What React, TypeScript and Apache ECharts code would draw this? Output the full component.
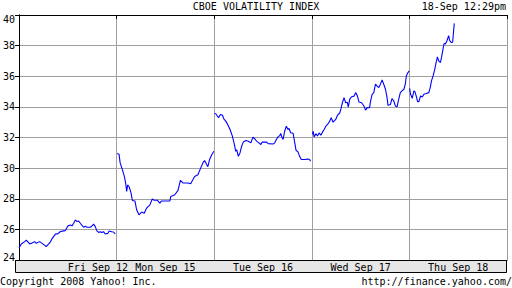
import React, { useEffect, useRef } from "react";
import * as echarts from "echarts";

// Day labels (category band under each trading session)
const dayLabels = ["Fri Sep 12", "Mon Sep 15", "Tue Sep 16", "Wed Sep 17", "Thu Sep 18"];

// Y-axis range / ticks
const yMin = 24;
const yMax = 40;
const yStep = 2;

// Intraday VIX readings: [fraction of session, value]
const fri12: [number, number][] = [
  [0.0, 24.79], [0.023, 25.05], [0.058, 25.2], [0.074, 25.3], [0.109, 25.05], [0.143, 25.15],
  [0.16, 25.2], [0.176, 25.09], [0.211, 25.2], [0.244, 25.05], [0.278, 24.87], [0.318, 25.15],
  [0.339, 25.4], [0.373, 25.69], [0.4, 25.72], [0.424, 25.86], [0.458, 25.9], [0.475, 25.92],
  [0.502, 26.23], [0.526, 26.28], [0.543, 26.23], [0.56, 26.4], [0.577, 26.62], [0.594, 26.51],
  [0.611, 26.55], [0.628, 26.4], [0.645, 26.26], [0.662, 26.14], [0.679, 26.2], [0.696, 26.14],
  [0.73, 26.14], [0.747, 26.22], [0.764, 26.34], [0.781, 26.18], [0.798, 25.9], [0.815, 25.8],
  [0.832, 25.85], [0.849, 25.79], [0.866, 25.85], [0.883, 25.7], [0.91, 25.74], [0.924, 25.9],
  [0.95, 25.84], [0.968, 25.83], [0.985, 25.7],
];
const mon15: [number, number][] = [
  [0.005, 30.95], [0.025, 30.9], [0.036, 30.34], [0.059, 29.9], [0.079, 29.46], [0.093, 29.0],
  [0.103, 28.48], [0.113, 28.9], [0.127, 28.8], [0.148, 28.37], [0.161, 27.89], [0.188, 27.85],
  [0.205, 27.28], [0.229, 26.95], [0.256, 27.13], [0.283, 27.06], [0.307, 27.39], [0.341, 27.6],
  [0.365, 27.98], [0.385, 27.9], [0.419, 27.9], [0.443, 27.72], [0.459, 27.85], [0.545, 27.85],
  [0.555, 28.15], [0.596, 28.26], [0.629, 28.55], [0.653, 29.2], [0.68, 29.03], [0.731, 29.03],
  [0.759, 28.98], [0.782, 29.25], [0.799, 29.46], [0.833, 29.57], [0.861, 30.0], [0.887, 30.38],
  [0.901, 30.49], [0.922, 30.23], [0.935, 30.1], [0.952, 30.56], [0.976, 30.89], [0.996, 31.1],
];
const tue16: [number, number][] = [
  [0.003, 33.57], [0.016, 33.55], [0.044, 33.29], [0.064, 33.5], [0.085, 33.45], [0.098, 33.22],
  [0.118, 33.07], [0.138, 32.85], [0.162, 32.52], [0.186, 32.09], [0.207, 31.54], [0.22, 31.1],
  [0.23, 31.2], [0.247, 30.77], [0.264, 30.99], [0.281, 31.43], [0.298, 31.7], [0.325, 31.8],
  [0.349, 31.76], [0.376, 31.65], [0.396, 32.02], [0.417, 31.9], [0.434, 31.76], [0.457, 31.65],
  [0.478, 31.54], [0.492, 31.7], [0.536, 31.7], [0.553, 31.6], [0.604, 31.58], [0.62, 31.65],
  [0.637, 31.87], [0.654, 32.04], [0.671, 32.12], [0.681, 32.26], [0.696, 31.98], [0.706, 31.87],
  [0.722, 32.41], [0.739, 32.74], [0.756, 32.52], [0.767, 32.6], [0.783, 32.31], [0.808, 32.28],
  [0.824, 31.7], [0.838, 31.17], [0.858, 31.06], [0.875, 30.77], [0.892, 30.56], [0.926, 30.56],
  [0.96, 30.59], [0.977, 30.56], [0.987, 30.45],
];
const wed17: [number, number][] = [
  [0.007, 32.2], [0.014, 32.41], [0.024, 32.04], [0.042, 32.25], [0.058, 32.1], [0.075, 32.3],
  [0.093, 32.15], [0.109, 32.35], [0.126, 32.52], [0.144, 32.74], [0.16, 32.85], [0.184, 33.07],
  [0.198, 33.29], [0.218, 33.0], [0.245, 33.18], [0.262, 33.44], [0.286, 33.6], [0.299, 33.88],
  [0.313, 34.27], [0.33, 34.6], [0.347, 34.27], [0.364, 34.3], [0.374, 33.99], [0.388, 34.49],
  [0.408, 34.66], [0.432, 34.7], [0.449, 34.93], [0.465, 34.75], [0.483, 34.32], [0.51, 34.27],
  [0.534, 34.06], [0.551, 33.79], [0.567, 33.95], [0.592, 33.95], [0.602, 34.38], [0.618, 34.82],
  [0.635, 34.93], [0.652, 35.48], [0.666, 35.37], [0.686, 35.26], [0.703, 35.48], [0.72, 35.76],
  [0.737, 35.48], [0.755, 35.15], [0.771, 34.6], [0.781, 34.1], [0.806, 34.16], [0.821, 34.54],
  [0.839, 34.4], [0.856, 34.06], [0.873, 34.0], [0.89, 34.49], [0.907, 34.93], [0.924, 35.04],
  [0.944, 35.15], [0.958, 35.48], [0.968, 36.02], [0.985, 36.24], [0.999, 36.35],
];
const thu18: [number, number][] = [
  [0.002, 35.21], [0.012, 34.82], [0.029, 34.56], [0.046, 35.04], [0.056, 35.0], [0.07, 34.7],
  [0.084, 34.34], [0.097, 34.34], [0.114, 34.71], [0.132, 34.65], [0.148, 34.82], [0.172, 34.87],
  [0.199, 34.93], [0.213, 35.26], [0.226, 35.7], [0.243, 36.02], [0.26, 36.46], [0.274, 36.9],
  [0.287, 37.27], [0.3, 37.0], [0.318, 36.9], [0.328, 37.2], [0.341, 37.66], [0.355, 38.14],
  [0.369, 38.1], [0.385, 38.32], [0.402, 38.65], [0.413, 38.32], [0.43, 38.2], [0.443, 38.22],
  [0.453, 38.97], [0.46, 39.45],
];

const sessions = [fri12, mon15, tue16, wed17, thu18];

const FONT = "DejaVu Sans Mono";
const LINE_BLUE = "#0000ff";
const GRID_GRAY = "#a0a0a0";

export default function App() {
  const ref = useRef<HTMLDivElement>(null);

  useEffect(() => {
    if (!ref.current) return;
    const chart = echarts.init(ref.current, undefined, { renderer: "svg" });

    const series = sessions.map((pts, day) => ({
      type: "line",
      xAxisIndex: 0,
      yAxisIndex: 0,
      showSymbol: false,
      symbol: "none",
      z: 5,
      lineStyle: { color: LINE_BLUE, width: 1.1 },
      data: pts.map(([f, v]) => [day + f, v]),
    }));

    const titleStyle = { fontFamily: FONT, fontSize: 10, fontWeight: "normal", color: "#000" };
    const labelFont = { fontFamily: FONT, fontSize: 10, color: "#000" };

    chart.setOption({
      animation: false,
      textStyle: { fontFamily: FONT },
      title: [
        { text: "CBOE VOLATILITY INDEX", left: "center", top: 1, padding: 0, textStyle: titleStyle },
        { text: "18-Sep 12:29pm", right: 6, top: 1, padding: 0, textStyle: titleStyle },
        { text: "Copyright 2008 Yahoo! Inc.", left: 0, top: 276, padding: 0, textStyle: titleStyle },
        { text: "http://finance.yahoo.com/", right: 0, top: 276, padding: 0, textStyle: titleStyle },
      ],
      grid: { left: 16, right: 5, top: 15, bottom: 28, containLabel: false },
      graphic: [
        {
          type: "rect",
          z: 1,
          shape: { x: 15.5, y: 260.5, width: 491, height: 12 },
          style: { fill: "#e6e6e6", stroke: "#000", lineWidth: 1 },
        },
      ],
      xAxis: [
        {
          type: "value",
          position: "bottom",
          min: 0,
          max: 5,
          interval: 1,
          z: 3,
          axisLine: { show: true, lineStyle: { color: "#000", width: 1 } },
          axisTick: { show: false },
          axisLabel: { show: false },
          splitLine: { show: true, lineStyle: { color: GRID_GRAY, width: 1 } },
        },
        {
          type: "value",
          position: "top",
          min: 0,
          max: 5,
          interval: 1,
          z: 3,
          axisLine: { show: true, lineStyle: { color: "#000", width: 1 } },
          axisTick: { show: true, inside: true, length: 4, lineStyle: { color: "#000" } },
          axisLabel: { show: false },
          splitLine: { show: false },
        },
        {
          type: "category",
          position: "bottom",
          boundaryGap: true,
          z: 4,
          data: dayLabels.map((d, i) =>
            i === 0 ? { value: d, textStyle: { align: "left" } } : d
          ),
          axisLine: { show: false },
          axisTick: { show: false },
          splitLine: { show: false },
          axisLabel: {
            show: true,
            interval: 0,
            margin: 2,
            ...labelFont,
          },
        },
      ],
      yAxis: [
        {
          type: "value",
          position: "left",
          min: yMin,
          max: yMax,
          interval: yStep,
          z: 3,
          axisLine: { show: true, lineStyle: { color: "#000", width: 1 } },
          axisTick: { show: true, inside: false, length: 3, lineStyle: { color: "#000" } },
          axisLabel: {
            show: true,
            margin: 4,
            ...labelFont,
            formatter: (v: number) =>
              v === yMax ? `{top|${v}}` : v === yMin ? `{bot|${v}}` : `${v}`,
            rich: {
              top: { ...labelFont, padding: [9, 0, 0, 0] },
              bot: { ...labelFont, padding: [0, 0, 5, 0] },
            },
          },
          splitLine: { show: true, lineStyle: { color: GRID_GRAY, width: 1 } },
        },
        {
          type: "value",
          position: "right",
          min: yMin,
          max: yMax,
          interval: yStep,
          z: 3,
          axisLine: { show: true, lineStyle: { color: "#000", width: 1 } },
          axisTick: { show: true, inside: true, length: 4, lineStyle: { color: "#000" } },
          axisLabel: { show: false },
          splitLine: { show: false },
        },
      ],
      series,
    });

    return () => chart.dispose();
  }, []);

  return (
    <div
      ref={ref}
      style={{ position: "fixed", left: 0, top: 0, width: 512, height: 288, background: "#fff" }}
    />
  );
}
